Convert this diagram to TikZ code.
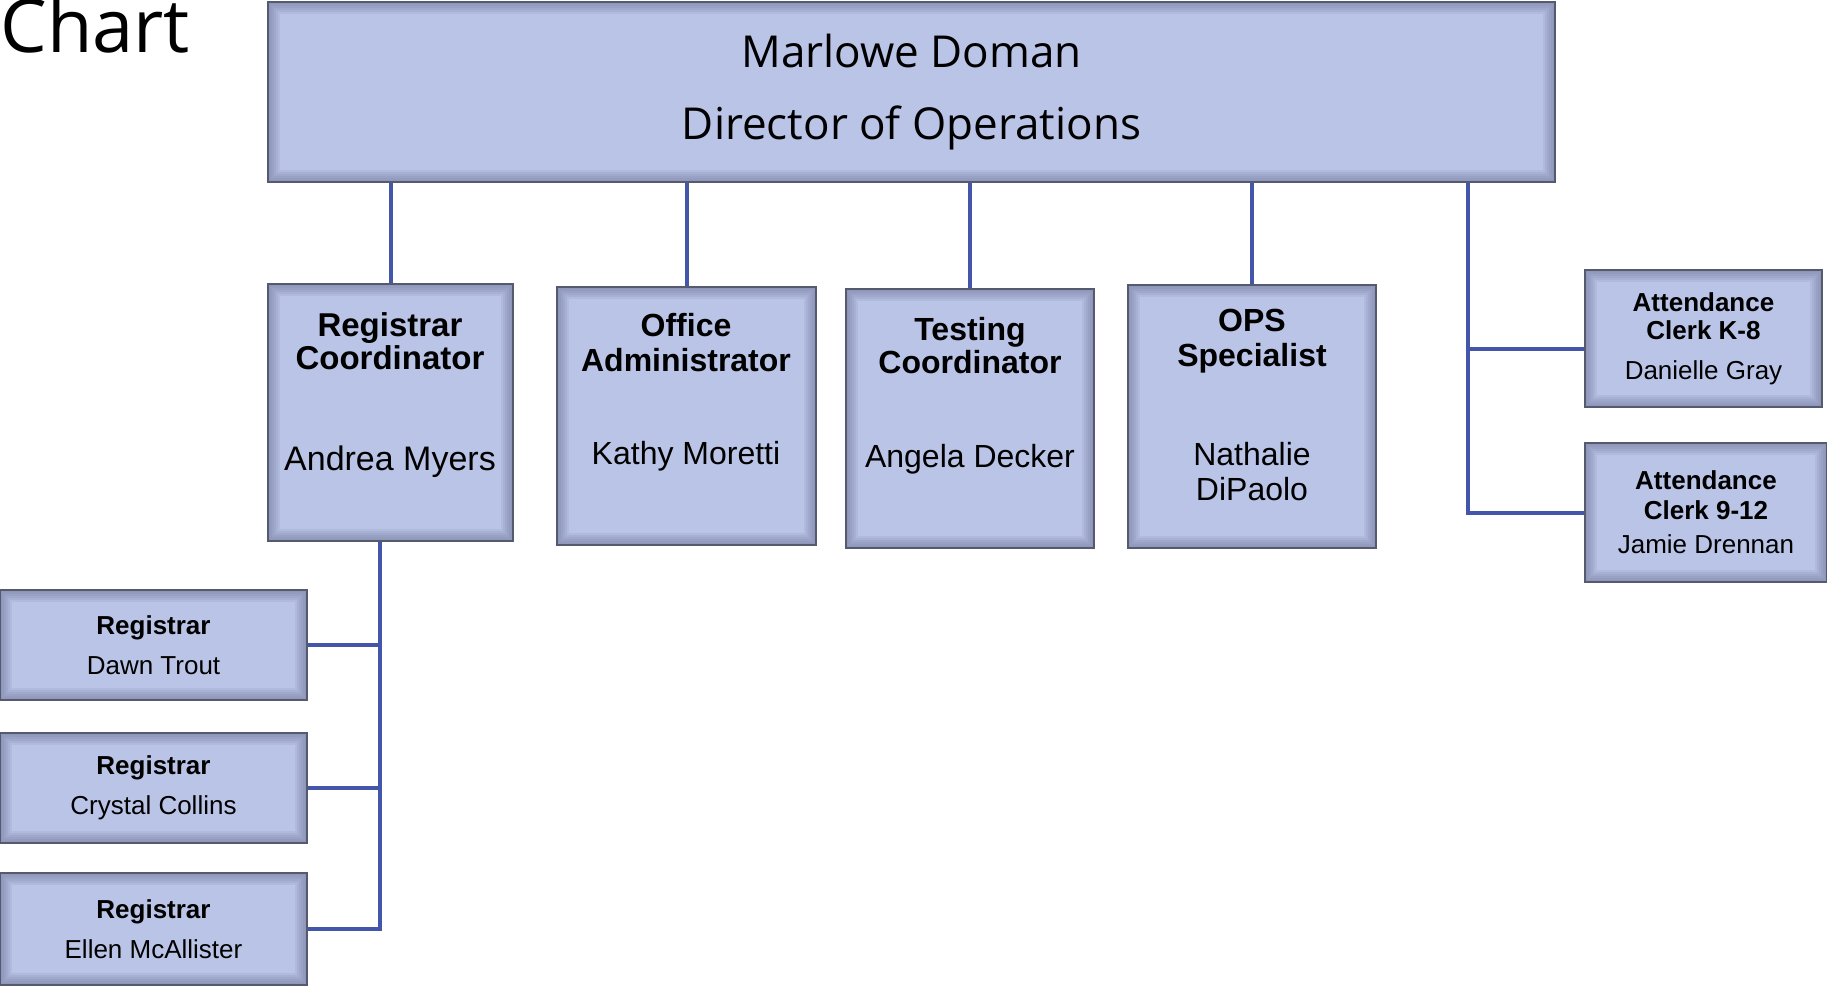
\documentclass[tikz,border=0pt]{standalone}
\usepackage{fontspec}
\setmainfont{Liberation Sans}
\newfontfamily\headfont{Open Sans}
\usetikzlibrary{positioning}
\definecolor{boxfill}{RGB}{186, 196, 230}
\definecolor{boxedge}{RGB}{86, 90, 110}
\definecolor{boxshade}{RGB}{110, 116, 150}
\definecolor{linkblue}{RGB}{68, 86, 170}

\begin{document}
\begin{tikzpicture}[x=0.5pt, y=-0.5pt,
        staff/.style={rectangle, draw=boxedge, line width=1.3pt, fill=boxfill, inner sep=0pt, align=center,
            path picture={\foreach \w in {2,4,6,8,10,12}
                \draw[boxshade, line width=\w pt, opacity=0.12] (path picture bounding box.south west) rectangle (path picture bounding box.north east);}},
        link/.style={draw=linkblue, line width=2pt},
        role/.style={align=center, inner sep=0pt, font=\fontsize{16}{17.5}\selectfont\bfseries},
        who/.style={align=center, inner sep=0pt, font=\fontsize{16}{17.5}\selectfont},
        small/.style={font=\fontsize{13}{20}\selectfont}
    ]
        \useasboundingbox (0,0) rectangle (1827,987);

        \node[anchor=base west, inner sep=0pt, font=\headfont\fontsize{37}{40}\selectfont] (title) at (0,52) {Chart};

        % director
        \node[staff, minimum width=643.5pt, minimum height=90pt, font=\headfont\fontsize{22}{36}\selectfont] (top) at (911.5,92) {Marlowe Doman\\Director of Operations};

        % second row
        \node[staff, minimum width=122.5pt, minimum height=128.5pt] (rc) at (390.5,412.5) {};
        \node[staff, minimum width=129.5pt, minimum height=129pt] (oa) at (686.5,416) {};
        \node[staff, minimum width=124pt, minimum height=129.5pt] (tc) at (970,418.5) {};
        \node[staff, minimum width=124pt, minimum height=131.5pt] (ops) at (1252,416.5) {};

        \node[role, font=\fontsize{16.5}{16.5}\selectfont\bfseries] (rc-role) at (390,341.5) {Registrar\\Coordinator};
        \node[who, font=\fontsize{17}{17}\selectfont] (rc-name) at (390,462) {Andrea Myers};
        \node[role] (oa-role) at (686,342.5) {Office\\Administrator};
        \node[who] (oa-name) at (686,456) {Kathy Moretti};
        \node[role, font=\fontsize{16}{16.5}\selectfont\bfseries] (tc-role) at (970,345.5) {Testing\\Coordinator};
        \node[who] (tc-name) at (970,459) {Angela Decker};
        \node[role] (ops-role) at (1252,341.5) {OPS\\Specialist};
        \node[who] (ops-name) at (1252,471.5) {Nathalie\\DiPaolo};

        % attendance
        \node[staff, small, font=\fontsize{13}{14}\selectfont, minimum width=118.5pt, minimum height=68.5pt] (k8) at (1703.5,338.5) {\textbf{Attendance}\\\textbf{Clerk K-8}\\[6pt]Danielle Gray};
        \node[staff, small, font=\fontsize{13}{15}\selectfont, minimum width=121pt, minimum height=69.5pt] (c912) at (1706,512.5) {\textbf{Attendance}\\\textbf{Clerk 9-12}\\[2pt]Jamie Drennan};

        % registrars
        \node[staff, small, minimum width=153.5pt, minimum height=55pt] (r1) at (153.5,645) {\textbf{Registrar}\\Dawn Trout};
        \node[staff, small, minimum width=153.5pt, minimum height=55pt] (r2) at (153.5,788) {\textbf{Registrar}\\Crystal Collins};
        \node[staff, small, minimum width=153.5pt, minimum height=56pt] (r3) at (153.5,929) {\textbf{Registrar}\\Ellen McAllister};

        % connectors
        \foreach \n in {rc, oa, tc, ops}
            \draw[link] (top.south -| \n.north) -- (\n.north);

        \coordinate (att) at (1468,0);
        \draw[link] (top.south -| att) |- (c912.west);
        \draw[link] ([yshift=-5pt]k8.west) -- ([yshift=-5pt]k8.west -| att);

        \coordinate (reg) at (380,0);
        \draw[link] (rc.south -| reg) |- (r3.east);
        \draw[link] (r1.east) -- (r1.east -| reg);
        \draw[link] (r2.east) -- (r2.east -| reg);
    \end{tikzpicture}
\end{document}
